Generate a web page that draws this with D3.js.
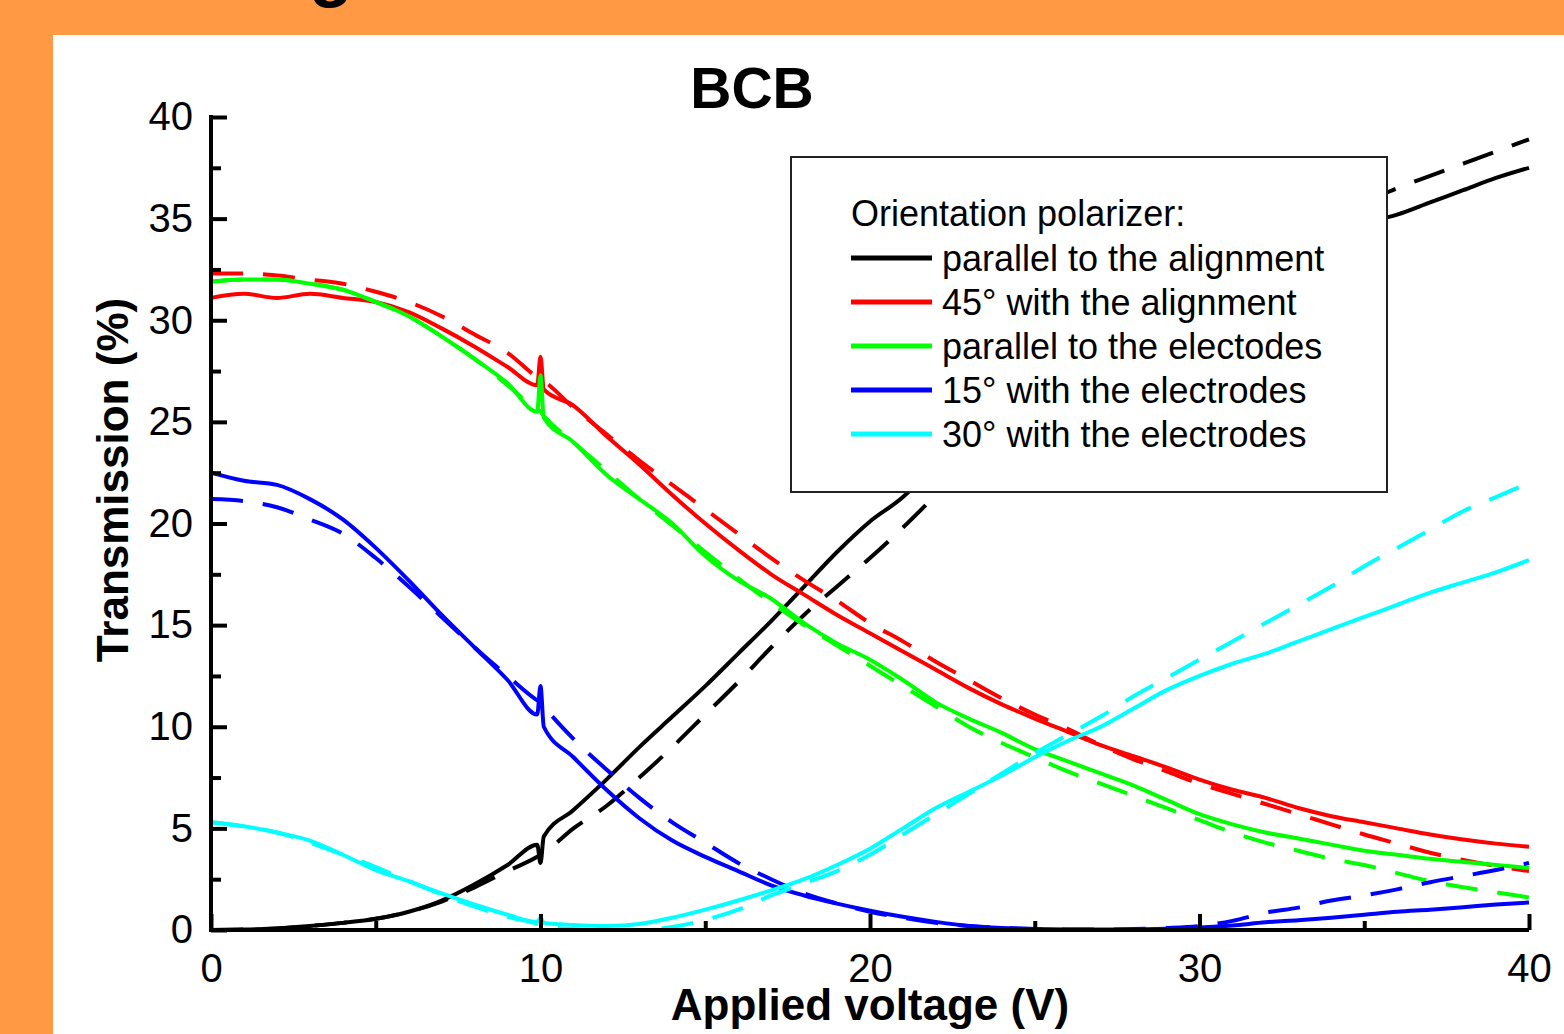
<!DOCTYPE html>
<html>
<head>
<meta charset="utf-8">
<script src="https://cdn.jsdelivr.net/npm/d3@7"></script>
<style>
  body { margin: 0; background: #ff9944; overflow: hidden; }
  text { font-family: "Liberation Sans", Arial, sans-serif; }
</style>
</head>
<body>
<div class="chart"></div>
<script>
// BCB transmission vs applied voltage

var volts = [0, 1, 2, 3, 4, 5, 6, 7, 8, 9,
    9.9, 10, 10.1,
    11, 12, 13, 14, 15, 16, 17, 18, 19, 20,
    21, 22, 23, 24, 25, 26, 27, 28, 29, 30,
    31, 32, 33, 34, 35, 36, 37, 38, 39, 40];

// measured (solid) and fitted (dashed) transmission, %
var blackMeasured = [0, 0.02, 0.08, 0.2, 0.35, 0.55, 0.9, 1.45, 2.25, 3.2,
    4.2, 3.3, 4.6,
    5.9, 7.4, 9.0, 10.5, 12.0, 13.6, 15.2, 16.9, 18.6, 20.1,
    21.3, 23.0, 24.6, 26.0, 27.4, 28.6, 29.7, 30.7, 31.5, 32.2,
    32.9, 33.5, 34.0, 34.4, 34.8, 35.2, 35.8, 36.4, 37.0, 37.5];
var blackFit = [0, 0.02, 0.08, 0.2, 0.35, 0.55, 0.9, 1.4, 2.1, 2.9,
    3.6, 3.7, 3.8,
    5.0, 6.1, 7.5, 9.0, 10.6, 12.2, 13.9, 15.5, 16.9, 18.3,
    19.8, 21.4, 23.0, 24.5, 26.0, 27.4, 28.7, 29.9, 31.0, 32.0,
    32.9, 33.7, 34.5, 35.2, 35.8, 36.5, 37.1, 37.7, 38.3, 38.9];

var redMeasured = [31.1, 31.3, 31.1, 31.3, 31.1, 30.9, 30.4, 29.6, 28.7, 27.7,
    26.8, 28.2, 26.6,
    25.8, 24.3, 22.9, 21.4, 20.0, 18.7, 17.5, 16.5, 15.5, 14.6,
    13.7, 12.8, 11.9, 11.1, 10.4, 9.75, 9.1, 8.55, 8.0, 7.4,
    6.9, 6.5, 6.0, 5.6, 5.3, 5.0, 4.7, 4.45, 4.25, 4.1];
var redFit = [32.3, 32.3, 32.2, 32.0, 31.8, 31.4, 30.9, 30.2, 29.3, 28.4,
    27.2, 27.1, 27.0,
    25.7, 24.4, 23.1, 21.9, 20.7, 19.5, 18.3, 17.2, 16.2, 15.1,
    14.2, 13.2, 12.3, 11.4, 10.6, 9.9, 9.1, 8.4, 7.8, 7.2,
    6.7, 6.2, 5.7, 5.2, 4.7, 4.25, 3.8, 3.45, 3.15, 2.9];

var greenMeasured = [31.9, 32.0, 32.0, 31.8, 31.5, 30.9, 30.2, 29.2, 28.1, 26.9,
    25.5, 27.3, 25.2,
    24.0, 22.4, 21.2, 20.0, 18.4, 17.2, 16.3, 15.1, 14.1, 13.3,
    12.3, 11.2, 10.4, 9.7, 8.9, 8.3, 7.7, 7.1, 6.4, 5.7,
    5.2, 4.8, 4.5, 4.2, 3.9, 3.7, 3.5, 3.35, 3.2, 3.05];
var greenFit = [31.9, 32.0, 32.0, 31.8, 31.5, 30.9, 30.2, 29.2, 28.1, 26.8,
    25.6, 25.5, 25.3,
    24.0, 22.6, 21.2, 19.9, 18.6, 17.3, 16.1, 15.0, 14.0, 13.0,
    12.0, 11.0, 10.0, 9.2, 8.5, 7.8, 7.2, 6.6, 6.0, 5.4,
    4.8, 4.3, 3.9, 3.5, 3.2, 2.8, 2.4, 2.1, 1.85, 1.6];

var blueMeasured = [22.5, 22.1, 21.9, 21.2, 20.2, 18.8, 17.2, 15.5, 13.9, 12.3,
    10.6, 12.0, 10.0,
    8.5, 6.9, 5.5, 4.4, 3.6, 2.9, 2.2, 1.7, 1.3, 0.95,
    0.65, 0.4, 0.2, 0.1, 0.05, 0.03, 0.02, 0.03, 0.06, 0.12,
    0.22, 0.38, 0.48, 0.6, 0.75, 0.9, 1.0, 1.12, 1.25, 1.35];
var blueFit = [21.2, 21.1, 20.8, 20.2, 19.5, 18.3, 16.9, 15.4, 13.9, 12.5,
    11.3, 11.2, 11.0,
    9.4, 7.9, 6.5, 5.3, 4.3, 3.3, 2.5, 1.8, 1.3, 0.9,
    0.6, 0.35, 0.2, 0.1, 0.05, 0.02, 0.02, 0.05, 0.1, 0.2,
    0.45, 0.85, 1.1, 1.45, 1.7, 2.0, 2.35, 2.65, 2.95, 3.3];

var cyanMeasured = [5.3, 5.1, 4.8, 4.4, 3.7, 2.95, 2.4, 1.8, 1.25, 0.75,
    0.4, 0.6, 0.35,
    0.25, 0.2, 0.3, 0.6, 1.0, 1.45, 1.95, 2.5, 3.2, 4.0,
    5.0, 6.0, 6.8, 7.6, 8.5, 9.3, 10.0, 10.9, 11.8, 12.5,
    13.1, 13.6, 14.2, 14.8, 15.4, 16.0, 16.6, 17.1, 17.6, 18.2];
var cyanFit = [5.3, 5.1, 4.8, 4.3, 3.7, 3.1, 2.4, 1.75, 1.15, 0.65,
    0.3, 0.25, 0.2,
    0.05, 0, 0, 0.15, 0.5, 1.0, 1.7, 2.3, 2.9, 3.7,
    4.7, 5.7, 6.7, 7.7, 8.7, 9.6, 10.5, 11.5, 12.4, 13.3,
    14.2, 15.1, 16.0, 16.9, 17.9, 18.8, 19.7, 20.6, 21.3, 22.0];

var legendLabels = ["parallel to the alignment", "45\u00b0 with the alignment",
    "parallel to the electodes", "15\u00b0 with the electrodes", "30\u00b0 with the electrodes"];
var xTicks = [0, 10, 20, 30, 40];
var yTicks = [0, 5, 10, 15, 20, 25, 30, 35, 40];

var colors = ["#000000", "#ff0000", "#00ff00", "#0000ff", "#00ffff"];
var measured = [blackMeasured, redMeasured, greenMeasured, blueMeasured, cyanMeasured];
var fits = [blackFit, redFit, greenFit, blueFit, cyanFit];

var svgWidth = 1564;
var svgHeight = 1034;

var margin = { top: 117, right: 35, bottom: 104, left: 211 };
var width = svgWidth - margin.left - margin.right;
var height = svgHeight - margin.top - margin.bottom;

var svg = d3.select(".chart")
    .append("svg")
    .attr("width", svgWidth)
    .attr("height", svgHeight);

// slide background
svg.append("rect")
    .attr("width", svgWidth)
    .attr("height", svgHeight)
    .attr("fill", "#ff9944");

svg.append("rect")
    .attr("x", 53)
    .attr("y", 35)
    .attr("width", svgWidth - 53)
    .attr("height", svgHeight - 35)
    .attr("fill", "#ffffff");

// descender of the slide title, cut off at the top
svg.append("text")
    .attr("x", 331)
    .attr("y", -7)
    .attr("text-anchor", "middle")
    .style("font-size", "72px")
    .style("font-weight", "bold")
    .text("g");

var chart = svg.append("g")
    .attr("transform", "translate(" + margin.left + "," + margin.top + ")");

var xLinearScale = d3.scaleLinear().domain([0, 40]).range([0, width]);
var yLinearScale = d3.scaleLinear().domain([0, 40]).range([height, 0]);

var series = [];
colors.forEach(function(c, i) {
    series.push({ color: c, values: measured[i], dashed: false });
    series.push({ color: c, values: fits[i], dashed: true });
});

var line = d3.line()
    .x(function(d) { return xLinearScale(d[0]); })
    .y(function(d) { return yLinearScale(d[1]); })
    .curve(d3.curveMonotoneX);

chart.selectAll(".curve")
    .data(series)
    .enter()
    .append("path")
    .attr("class", "curve")
    .attr("fill", "none")
    .attr("stroke", function(d) { return d.color; })
    .attr("stroke-width", 4)
    .attr("stroke-linejoin", "round")
    .attr("stroke-dasharray", function(d) { return d.dashed ? "32,20" : null; })
    .attr("d", function(d) {
        return line(volts.map(function(v, j) { return [v, d.values[j]]; }));
    });

// axes, ticks pointing inward
var bottomAxis = d3.axisBottom(xLinearScale)
    .tickValues(xTicks)
    .tickSize(-16)
    .tickPadding(24)
    .tickFormat(d3.format("d"));
var bottomMinor = d3.axisBottom(xLinearScale)
    .tickValues([5, 15, 25, 35])
    .tickSize(-9)
    .tickFormat("");
var leftAxis = d3.axisLeft(yLinearScale)
    .tickValues(yTicks)
    .tickSize(-16)
    .tickPadding(18)
    .tickFormat(d3.format("d"));
var leftMinor = d3.axisLeft(yLinearScale)
    .tickValues([2.5, 7.5, 12.5, 17.5, 22.5, 27.5, 32.5, 37.5])
    .tickSize(-10)
    .tickFormat("");

[chart.append("g").attr("transform", "translate(0," + height + ")").call(bottomAxis),
 chart.append("g").attr("transform", "translate(0," + height + ")").call(bottomMinor),
 chart.append("g").call(leftAxis),
 chart.append("g").call(leftMinor)].forEach(function(g) {
    g.select(".domain").remove();
    g.selectAll(".tick line").attr("stroke", "#000").attr("stroke-width", 4);
    g.selectAll(".tick text").attr("fill", "#000").style("font-size", "40px");
});

// axis lines
chart.append("line")
    .attr("x1", 0).attr("x2", width)
    .attr("y1", height).attr("y2", height)
    .attr("stroke", "#000").attr("stroke-width", 4);
chart.append("line")
    .attr("x1", 0).attr("x2", 0)
    .attr("y1", -2).attr("y2", height + 2)
    .attr("stroke", "#000").attr("stroke-width", 4);

// titles
svg.append("text")
    .attr("x", 752)
    .attr("y", 108)
    .attr("text-anchor", "middle")
    .style("font-size", "57px")
    .style("font-weight", "bold")
    .text("BCB");

svg.append("text")
    .attr("x", 870)
    .attr("y", 1020)
    .attr("text-anchor", "middle")
    .style("font-size", "44px")
    .style("font-weight", "bold")
    .text("Applied voltage (V)");

svg.append("text")
    .attr("transform", "translate(128,480) rotate(-90)")
    .attr("text-anchor", "middle")
    .style("font-size", "44px")
    .style("font-weight", "bold")
    .text("Transmission (%)");

// legend
var legend = svg.append("g").attr("transform", "translate(791,157)");

legend.append("rect")
    .attr("width", 596)
    .attr("height", 335)
    .attr("fill", "#ffffff")
    .attr("stroke", "#222")
    .attr("stroke-width", 2);

legend.append("text")
    .attr("x", 60)
    .attr("y", 69)
    .style("font-size", "36px")
    .text("Orientation polarizer:");

var rows = legend.selectAll(".row")
    .data(legendLabels)
    .enter()
    .append("g")
    .attr("class", "row")
    .attr("transform", function(d, i) { return "translate(60," + (101 + i * 44) + ")"; });

rows.append("line")
    .attr("x1", 0).attr("x2", 81)
    .attr("stroke", function(d, i) { return colors[i]; })
    .attr("stroke-width", 5);

rows.append("text")
    .attr("x", 91)
    .attr("dy", "0.36em")
    .style("font-size", "36px")
    .text(function(d) { return d; });
</script>
</body>
</html>
